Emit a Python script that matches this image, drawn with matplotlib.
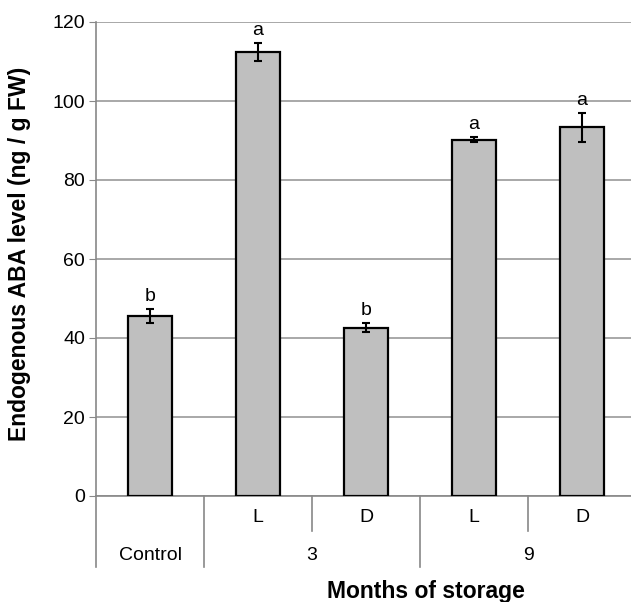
import matplotlib.pyplot as plt
import matplotlib.transforms as mtransforms

plt.rcParams['font.family'] = ['Liberation Sans', 'DejaVu Sans']

# data
groups = ['Control', '3', '9']
sub_labels = ['', 'L', 'D', 'L', 'D']
aba = [45.6, 112.4, 42.6, 90.2, 93.3]
err = [1.8, 2.2, 1.1, 0.7, 3.6]
letters = ['b', 'a', 'b', 'a', 'a']

fig = plt.figure(figsize=(6.31, 6.02), dpi=100)
ax = fig.add_axes([96 / 631, 1 - 496 / 602, 540 / 631, 474 / 602])

x = list(range(len(aba)))
ax.bar(x, aba, width=0.4, color='#bfbfbf', edgecolor='black', linewidth=1.6, zorder=3)
ax.errorbar(x, aba, yerr=err, fmt='none', ecolor='black', elinewidth=1.5,
            capsize=3, capthick=1.5, zorder=4)
for xi, v, e, t in zip(x, aba, err, letters):
    ax.annotate(t, (xi, v + e), xytext=(0, 3), textcoords='offset points',
                ha='center', va='bottom', fontsize=14)

ax.set_xlim(-0.5, 4.5)
ax.set_ylim(0, 120)
ax.set_yticks(range(0, 121, 20))
ax.tick_params(axis='y', labelsize=14, length=5, color='#888888', pad=3)
ax.set_xticks([])
ax.grid(axis='y', color='#9a9a9a', linewidth=1.2, zorder=0)
for s in ['top', 'right']:
    ax.spines[s].set_visible(False)
ax.spines['left'].set_color('#888888')
ax.spines['bottom'].set_color('#888888')
ax.spines['left'].set_linewidth(1.2)
ax.spines['bottom'].set_linewidth(1.2)

# two-level category axis under the plot
trans = mtransforms.blended_transform_factory(ax.transData, fig.transFigure)
y0 = 1 - 496 / 602
y_short = 1 - 531 / 602
y_long = 1 - 567 / 602
for b in [-0.5, 0.5, 2.5, 4.5]:
    ax.plot([b, b], [y0, y_long], transform=trans, color='#888888', lw=1.2, clip_on=False)
for b in [1.5, 3.5]:
    ax.plot([b, b], [y0, y_short], transform=trans, color='#888888', lw=1.2, clip_on=False)
for xi, lab in zip(x, sub_labels):
    ax.text(xi, 1 - 518 / 602, lab, transform=trans, ha='center', va='center', fontsize=14)
for xc, lab in zip([0, 1.5, 3.5], groups):
    ax.text(xc, 1 - 555 / 602, lab, transform=trans, ha='center', va='center', fontsize=14)

fig.text(426 / 631, 1 - 598 / 602, 'Months of storage', ha='center', va='baseline',
         fontsize=16.5, fontweight='bold')
fig.text(20 / 631, 0.578, 'Endogenous ABA level (ng / g FW)', rotation=90,
         ha='center', va='center', fontsize=16.5, fontweight='bold')

fig.savefig('out.png', dpi=100)
